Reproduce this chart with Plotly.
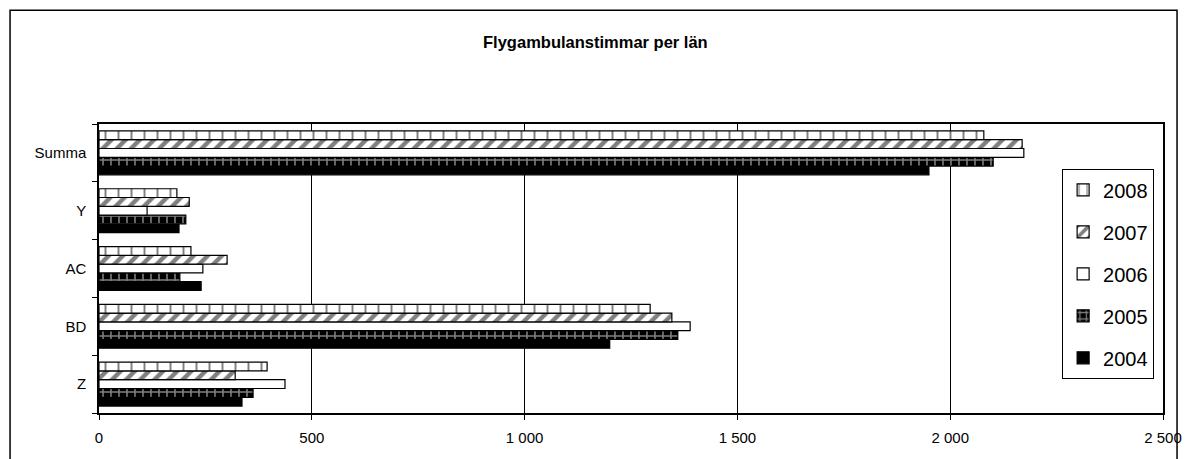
import plotly.graph_objects as go

categories = ["Z", "BD", "AC", "Y", "Summa"]
years = ["2004", "2005", "2006", "2007", "2008"]
v2004 = [336, 1200, 240, 188, 1950]
v2005 = [362, 1360, 190, 204, 2101]
v2006 = [437, 1389, 244, 113, 2173]
v2007 = [320, 1346, 301, 212, 2169]
v2008 = [395, 1295, 216, 183, 2079]
xticks = [0, 500, 1000, 1500, 2000, 2500]
xticktext = ["0", "500", "1 000", "1 500", "2 000", "2 500"]

series = [v2004, v2005, v2006, v2007, v2008]
styles = {
    "2004": dict(color="black", pattern=dict(shape="")),
    "2005": dict(color="black", pattern=dict(shape="+", fgcolor="white", bgcolor="black", size=8, solidity=0.35)),
    "2006": dict(color="white", pattern=dict(shape="")),
    "2007": dict(color="white", pattern=dict(shape="/", fgcolor="black", bgcolor="white", size=10, solidity=0.45)),
    "2008": dict(color="white", pattern=dict(shape="|", fgcolor="black", bgcolor="white", size=13, solidity=0.15)),
}

fig = go.Figure()
for i, (yr, vals) in enumerate(zip(years, series)):
    st = styles[yr]
    fig.add_trace(go.Bar(
        y=categories, x=vals, name=yr, orientation="h",
        legendgroup=yr, legendrank=len(years) - i,
        marker=dict(color=st["color"], pattern=st["pattern"],
                    line=dict(color="black", width=1.2)),
    ))

fig.update_layout(
    width=1186, height=459,
    paper_bgcolor="white", plot_bgcolor="white",
    margin=dict(l=99, r=23, t=124, b=46, autoexpand=False),
    barmode="group", bargap=0.24, bargroupgap=0,
    font=dict(family="Liberation Sans, Arial", color="black", size=14),
    title=dict(text="<b>Flygambulanstimmar per län</b>", x=0.502, xref="container", y=0.908, yref="container",
               xanchor="center", yanchor="middle", font=dict(size=16.5)),
    showlegend=True,
    legend=dict(x=0.905, y=0.844, xanchor="left", yanchor="top",
                traceorder="grouped", tracegroupgap=13,
                bordercolor="black", borderwidth=1.2, bgcolor="white",
                font=dict(size=20, family="Liberation Sans, Arial")),
    xaxis=dict(range=[0, 2500], tickvals=xticks, ticktext=xticktext,
               showgrid=True, gridcolor="black", gridwidth=1,
               ticks="outside", ticklen=5, tickcolor="black", ticklabelstandoff=5,
               showline=True, linecolor="black", linewidth=1.5, mirror=True,
               zeroline=False, tickfont=dict(size=15), automargin=False),
    yaxis=dict(categoryorder="array", categoryarray=categories,
               ticks="outside", tickson="boundaries", ticklen=5, tickcolor="black",
               showline=True, linecolor="black", linewidth=1.5, mirror=True,
               showgrid=False, automargin=False, ticklabelstandoff=8,
               tickfont=dict(size=15, family="Liberation Sans, Arial")),
)

fig.add_shape(type="rect", xref="paper", yref="paper",
              x0=-0.0836, x1=1.0132, y0=-0.6, y1=1.394,
              line=dict(color="black", width=1.5), fillcolor="rgba(0,0,0,0)", layer="below")

fig.write_html("out.html", config={"displayModeBar": False},
               post_script="document.body.style.margin='0';document.body.style.overflow='hidden';")
